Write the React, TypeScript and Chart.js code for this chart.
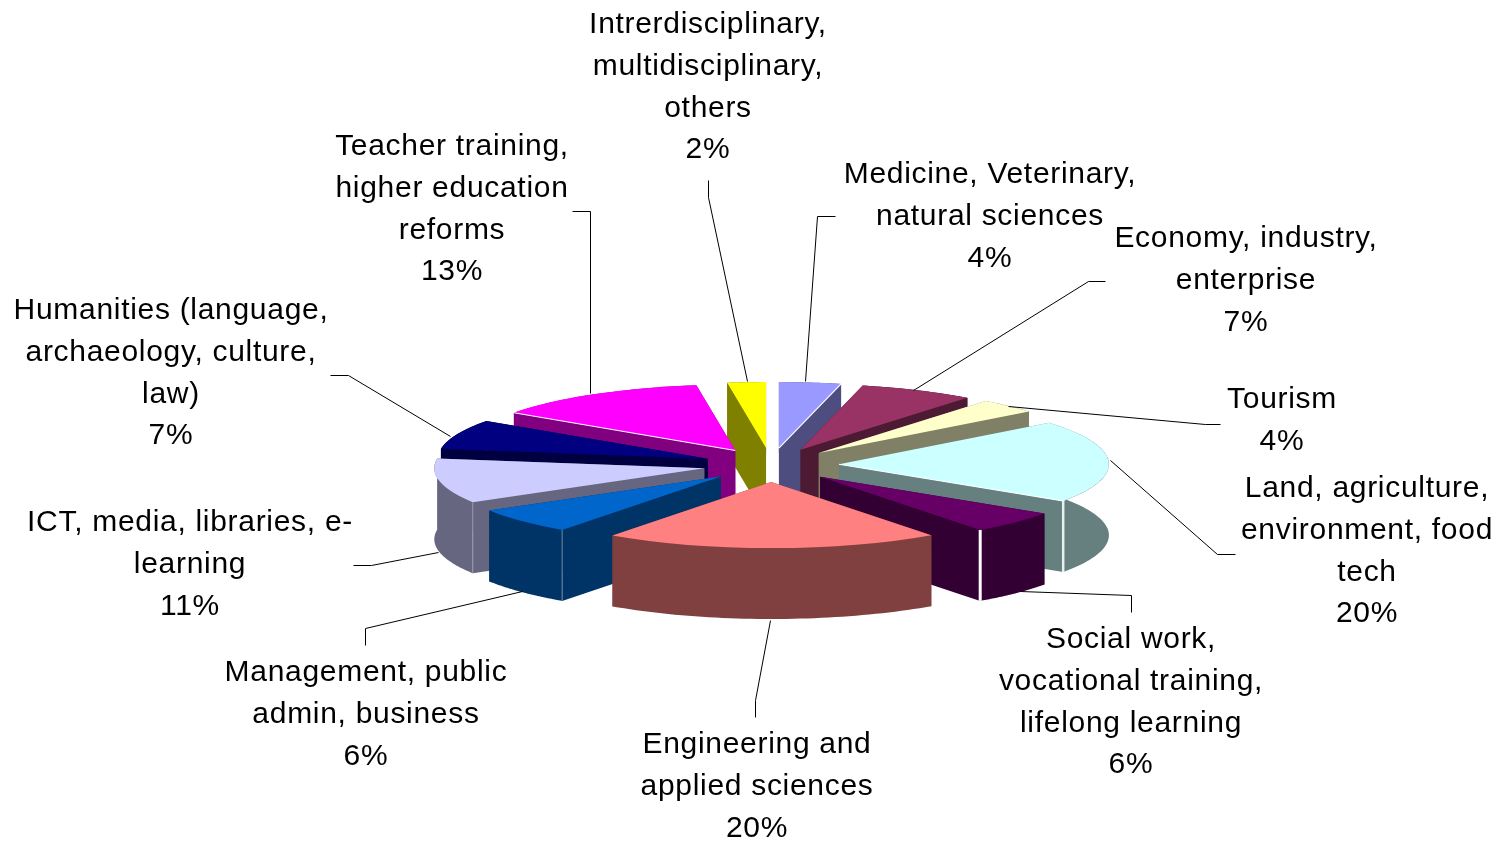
import React, { useEffect, useRef } from "react";
import { Chart, registerables } from "chart.js";

Chart.register(...registerables);

// ---- data, clockwise from 12 o'clock ----
const categories = [
  "Medicine, Veterinary, natural sciences",
  "Economy, industry, enterprise",
  "Tourism",
  "Land, agriculture, environment, food tech",
  "Social work, vocational training, lifelong learning",
  "Engineering and applied sciences",
  "Management, public admin, business",
  "ICT, media, libraries, e-learning",
  "Humanities (language, archaeology, culture, law)",
  "Teacher training, higher education reforms",
  "Intrerdisciplinary, multidisciplinary, others",
];
const shares = [3.7, 6.9, 3.6, 20.2, 5.5, 20.1, 6.4, 11.0, 7.3, 13.0, 2.3];
const percentLabels = ["4%", "7%", "4%", "20%", "6%", "20%", "6%", "11%", "7%", "13%", "2%"];
const labelLines = [
  ["Medicine, Veterinary,", "natural sciences"],
  ["Economy, industry,", "enterprise"],
  ["Tourism"],
  ["Land, agriculture,", "environment, food", "tech"],
  ["Social work,", "vocational training,", "lifelong learning"],
  ["Engineering and", "applied sciences"],
  ["Management, public", "admin, business"],
  ["ICT, media, libraries, e-", "learning"],
  ["Humanities (language,", "archaeology, culture,", "law)"],
  ["Teacher training,", "higher education", "reforms"],
  ["Intrerdisciplinary,", "multidisciplinary,", "others"],
];

// ---- styling ----
const topColors = ["#9999FF", "#993366", "#FFFFCC", "#CCFFFF", "#660066", "#FF8080", "#0066CC", "#CCCCFF", "#000080", "#FF00FF", "#FFFF00"];
const wallColors = ["#4D4D80", "#4D1A33", "#808066", "#668080", "#330033", "#804040", "#003366", "#666680", "#000040", "#800080", "#808000"];

// Tilted-disc layout
const CX = 771, CY = 465, RX = 270, RY = 66, EX = 68, EY = 17, DEPTH = 71;

// Label centre x, first-line y; then the leader polyline
const labelPos = [
  { x: 990, y: 175 }, { x: 1246, y: 239 }, { x: 1282, y: 400 }, { x: 1367, y: 489 },
  { x: 1131, y: 640 }, { x: 757, y: 745 }, { x: 366, y: 673 }, { x: 190, y: 523 },
  { x: 171, y: 311 }, { x: 452, y: 147 }, { x: 708, y: 25 },
];
const leaders = [
  [[835, 216], [817, 216], [805, 381]],
  [[1105, 281], [1088, 281], [913, 390]],
  [[1220, 424], [1205, 424], [1008, 406]],
  [[1235, 554], [1217, 554], [1110, 460]],
  [[1131, 612], [1131, 595], [1020, 591]],
  [[755, 717], [755, 700], [770, 620]],
  [[365, 645], [365, 628], [522, 591]],
  [[353, 565], [371, 565], [438, 552]],
  [[330, 375], [348, 375], [450, 436]],
  [[572, 211], [590, 211], [590, 393]],
  [[708, 180], [708, 197], [747, 381]],
];
// vertical seams on slice corners: [slice, which corner, width, colour]
const seams: [number, "start" | "end", number, string][] = [
  [3, "end", 2.5, "#E8F0F0"],
  [4, "end", 3, "#FFFFFF"],
  [6, "start", 1, "#6F88A8"],
  [7, "start", 1, "#9A9AB0"],
];
const edgeHighlights: [number, "start" | "end", string][] = [
  [9, "start", "#FFFFFF"],
  [0, "end", "#FFFFFF"],
  [3, "end", "#FFFFFF"],
];

const pie3d = {
  id: "pie3d",
  beforeDatasetDraw(chart: any) {
    const { ctx } = chart;
    const arcs = chart.getDatasetMeta(0).data;
    const geo = arcs.map((arc: any, i: number) => {
      const mid = (arc.startAngle + arc.endAngle) / 2;
      return { i, arc, mid, ax: CX + EX * Math.cos(mid), ay: CY + EY * Math.sin(mid) };
    });
    const order = [...geo].sort((a: any, b: any) => Math.sin(a.mid) - Math.sin(b.mid));
    for (const g of order) {
      const { arc, ax, ay, i } = g;
      const rim = (t: number) => [ax + RX * Math.cos(t), ay + RY * Math.sin(t)];
      const prism = (path: number[][]) => {
        ctx.beginPath();
        path.forEach((p, k) => (k ? ctx.lineTo(p[0], p[1]) : ctx.moveTo(p[0], p[1])));
        for (let k = path.length - 1; k >= 0; k--) ctx.lineTo(path[k][0], path[k][1] + DEPTH);
        ctx.closePath();
        ctx.fillStyle = wallColors[i];
        ctx.fill();
      };
      ctx.save();
      prism([[ax, ay], rim(arc.startAngle)]);
      prism([[ax, ay], rim(arc.endAngle)]);
      const samples: number[][] = [];
      for (let k = 0; k <= 48; k++) samples.push(rim(arc.startAngle + ((arc.endAngle - arc.startAngle) * k) / 48));
      prism(samples);
      for (const [s, which, w, col] of seams) {
        if (s !== i) continue;
        const p = rim(which === "start" ? arc.startAngle : arc.endAngle);
        ctx.strokeStyle = col;
        ctx.lineWidth = w;
        ctx.beginPath();
        ctx.moveTo(p[0], p[1]);
        ctx.lineTo(p[0], p[1] + DEPTH);
        ctx.stroke();
      }
      // top face: the library's own arc, under the tilt transform
      const R = arc.outerRadius;
      ctx.setTransform(RX / R, 0, 0, RY / R, ax - (arc.x * RX) / R, ay - (arc.y * RY) / R);
      arc.draw(ctx);
      ctx.setTransform(1, 0, 0, 1, 0, 0);
      for (const [s, which, col] of edgeHighlights) {
        if (s !== i) continue;
        const p = rim(which === "start" ? arc.startAngle : arc.endAngle);
        ctx.strokeStyle = col;
        ctx.lineWidth = 1.2;
        ctx.beginPath();
        ctx.moveTo(ax, ay);
        ctx.lineTo(p[0], p[1]);
        ctx.stroke();
      }
      ctx.restore();
    }
    return false;
  },
  afterDraw(chart: any) {
    const { ctx } = chart;
    ctx.save();
    ctx.strokeStyle = "#000000";
    ctx.lineWidth = 1;
    for (const line of leaders) {
      ctx.beginPath();
      line.forEach((p, k) => (k ? ctx.lineTo(p[0] + 0.5, p[1] + 0.5) : ctx.moveTo(p[0] + 0.5, p[1] + 0.5)));
      ctx.stroke();
    }
    ctx.fillStyle = "#000000";
    ctx.font = '30px "Liberation Sans"';
    (ctx as any).letterSpacing = "0.7px";
    ctx.textAlign = "center";
    ctx.textBaseline = "middle";
    labelLines.forEach((lines, i) => {
      const all = [...lines, percentLabels[i]];
      all.forEach((t, k) => ctx.fillText(t, labelPos[i].x, labelPos[i].y + k * 41.7));
    });
    ctx.restore();
  },
};

export default function App() {
  const ref = useRef<HTMLCanvasElement>(null);
  useEffect(() => {
    const chart = new Chart(ref.current as HTMLCanvasElement, {
      type: "pie",
      data: {
        labels: categories,
        datasets: [{ data: shares, backgroundColor: topColors, borderWidth: 0 }],
      },
      options: {
        animation: false,
        responsive: false,
        devicePixelRatio: 1,
        plugins: { legend: { display: false }, tooltip: { enabled: false } },
      },
      plugins: [pie3d],
    } as any);
    return () => chart.destroy();
  }, []);
  return (
    <div style={{ position: "absolute", left: 0, top: 0, width: 1501, height: 841, overflow: "hidden", background: "#fff" }}>
      <canvas ref={ref} width={1501} height={841} style={{ display: "block" }} />
    </div>
  );
}
